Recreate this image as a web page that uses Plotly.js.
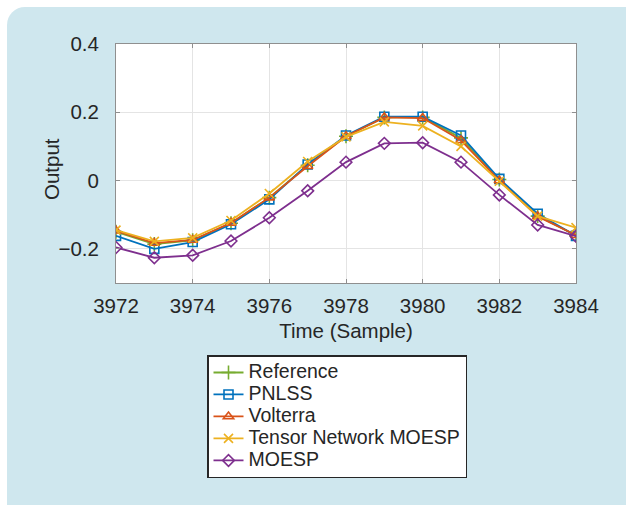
<!DOCTYPE html>
<html>
<head>
<meta charset="utf-8">
<script src="https://cdn.plot.ly/plotly-3.0.1.min.js"></script>
<style>
  html, body { margin: 0; padding: 0; background: #ffffff; }
  #wrap { position: relative; width: 626px; height: 505px; background: #ffffff; overflow: hidden; }
  #panel { position: absolute; left: 7px; top: 7px; width: 640px; height: 520px; background: #cfe7ee; border-top-left-radius: 18px; }
  #chart { position: absolute; left: 0; top: 0; width: 626px; height: 505px; }
</style>
</head>
<body>
<div id="wrap">
  <div id="panel"></div>
  <div id="chart"></div>
</div>
<script>
// ---- data ----
var timeSamples = [3972, 3973, 3974, 3975, 3976, 3977, 3978, 3979, 3980, 3981, 3982, 3983, 3984];
var referenceOut = [-0.150, -0.186, -0.175, -0.125, -0.050, 0.045, 0.130, 0.185, 0.185, 0.125, 0.003, -0.104, -0.160];
var pnlssOut     = [-0.162, -0.200, -0.180, -0.128, -0.055, 0.047, 0.132, 0.187, 0.187, 0.132, 0.005, -0.097, -0.162];
var volterraOut  = [-0.147, -0.183, -0.174, -0.124, -0.050, 0.042, 0.130, 0.185, 0.183, 0.118, 0.000, -0.105, -0.160];
var tnMoespOut   = [-0.145, -0.178, -0.168, -0.117, -0.038, 0.056, 0.128, 0.172, 0.160, 0.100, -0.002, -0.104, -0.138];
var moespOut     = [-0.196, -0.226, -0.219, -0.177, -0.109, -0.030, 0.054, 0.109, 0.111, 0.054, -0.042, -0.130, -0.163];
var seriesNames  = ['Reference', 'PNLSS', 'Volterra', 'Tensor Network MOESP', 'MOESP'];
var xTickVals    = [3972, 3974, 3976, 3978, 3980, 3982, 3984];
var yTickVals    = [-0.2, 0, 0.2, 0.4];
var yTickText    = ['\u22120.2', '0', '0.2', '0.4'];
var xTitle = 'Time (Sample)';
var yTitle = 'Output';

// ---- styles ----
var colors  = ['#77AC30', '#0072BD', '#D95319', '#EDB120', '#7E2F8E'];
var symbols = ['cross-thin-open', 'square-open', 'triangle-up-open', 'x-thin-open', 'diamond-open'];
var sizes   = [10, 9, 9, 9, 9];
var values  = [referenceOut, pnlssOut, volterraOut, tnMoespOut, moespOut];

var traces = values.map(function (v, i) {
  return {
    type: 'scatter',
    mode: 'lines+markers',
    x: timeSamples,
    y: v,
    name: '<span style="font-size:19.5px">' + seriesNames[i] + '</span>',
    line: { color: colors[i], width: 1.8 },
    marker: { symbol: symbols[i], size: sizes[i], color: colors[i], line: { color: colors[i], width: 1.6 } }
  };
});

var axisCommon = {
  showgrid: true,
  gridcolor: '#e4e4e4',
  gridwidth: 1,
  showline: true,
  linecolor: '#8f8f8f',
  linewidth: 1,
  mirror: 'ticks',
  ticks: 'inside',
  ticklen: 4,
  tickcolor: '#8f8f8f',
  zeroline: false,
  tickfont: { family: 'Liberation Sans, Arial, sans-serif', size: 20.5, color: '#262626' }
};

var layout = {
  width: 626,
  height: 505,
  margin: { l: 116, r: 50, t: 44, b: 222, pad: 0 },
  paper_bgcolor: 'rgba(0,0,0,0)',
  plot_bgcolor: '#ffffff',
  font: { family: 'Liberation Sans, Arial, sans-serif', color: '#262626' },
  showlegend: true,
  xaxis: Object.assign({}, axisCommon, {
    range: [3972, 3984],
    tickmode: 'array',
    tickvals: xTickVals,
    ticklabelstandoff: 4,
    title: { text: xTitle, font: { size: 20.5, color: '#262626' }, standoff: 8 }
  }),
  yaxis: Object.assign({}, axisCommon, {
    range: [-0.3, 0.4],
    tickmode: 'array',
    tickvals: yTickVals,
    ticktext: yTickText,
    ticklabelstandoff: 12
  }),
  annotations: [{
    text: yTitle,
    xref: 'paper', yref: 'paper',
    x: (51 - 116) / 460, y: (283 - 169) / 239,
    xanchor: 'center', yanchor: 'middle',
    textangle: -90,
    showarrow: false,
    font: { size: 20.5, color: '#262626' }
  }],
  legend: {
    x: (207 - 116) / 460,
    y: (283 - 355) / 239,
    xanchor: 'left',
    yanchor: 'top',
    bgcolor: '#ffffff',
    bordercolor: '#262626',
    borderwidth: 1.5,
    font: { size: 14.6, color: '#262626' },
    itemwidth: 30,
    entrywidthmode: 'pixels',
    entrywidth: 228,
    traceorder: 'normal'
  }
};

Plotly.newPlot('chart', traces, layout, { displayModeBar: false, staticPlot: true });
</script>
</body>
</html>
